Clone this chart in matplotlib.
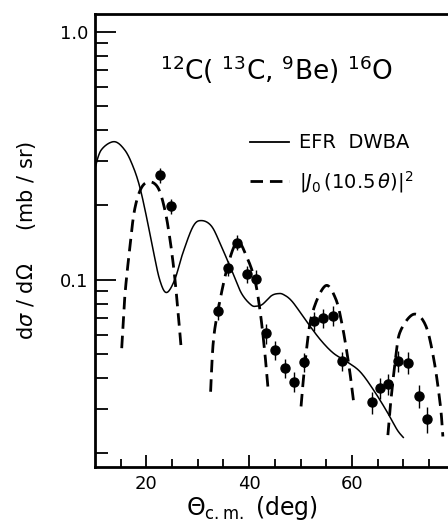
import numpy as np
import matplotlib.pyplot as plt
from matplotlib.lines import Line2D

# measured cross sections (deg, mb/sr)
theta_exp = [22.7, 24.7, 33.9, 35.8, 37.7, 39.6, 41.4, 43.3, 45.0, 47.0, 48.8,
             50.7, 52.6, 54.4, 56.3, 58.0, 63.9, 65.4, 67.0, 68.9, 70.9, 73.0, 74.7]
sigma_exp = [0.264, 0.198, 0.0748, 0.111, 0.141, 0.105, 0.101, 0.0607, 0.0521,
             0.0439, 0.0388, 0.0465, 0.0681, 0.0699, 0.0716, 0.0470, 0.0320,
             0.0365, 0.0380, 0.0470, 0.0463, 0.0340, 0.0274]
err_frac = [0.07, 0.07, 0.08, 0.07, 0.07, 0.08, 0.08, 0.09, 0.09, 0.09, 0.09,
            0.09, 0.09, 0.09, 0.09, 0.09, 0.10, 0.10, 0.10, 0.10, 0.10, 0.11, 0.12]

# EFR DWBA curve
theta_dwba = [10.0, 11.2, 13.7, 15.8, 17.4, 18.7, 20.0, 21.3, 22.6, 23.9, 25.5,
              27.1, 29.1, 30.7, 32.7, 34.6, 36.6, 38.5, 40.4, 41.5, 42.6, 44.3,
              45.6, 46.7, 48.4, 51.2, 53.9, 56.4, 59.0, 61.6, 64.2, 66.8, 68.8, 70.0]
sigma_dwba = [0.281, 0.333, 0.360, 0.333, 0.286, 0.237, 0.180, 0.132, 0.0997,
              0.0887, 0.0997, 0.128, 0.164, 0.173, 0.164, 0.136, 0.109, 0.0881,
              0.0790, 0.0782, 0.0795, 0.0860, 0.0878, 0.0870, 0.0815, 0.0677,
              0.0571, 0.0505, 0.0467, 0.0425, 0.0359, 0.0294, 0.0248, 0.0231]

# |J0(10.5 theta)|^2, four arches
bessel_theta = [
    [15.2, 15.8, 16.8, 17.7, 19.0, 20.6, 22.3, 23.6, 24.6, 25.5, 26.3, 26.8],
    [32.5, 33.0, 33.9, 35.8, 37.7, 39.5, 41.1, 42.1, 43.0, 43.7],
    [50.1, 50.9, 52.2, 54.8, 56.8, 58.1, 59.4, 60.4],
    [67.0, 67.5, 68.5, 69.4, 72.0, 74.3, 75.9, 77.2, 77.7],
]
bessel_sigma = [
    [0.0529, 0.0855, 0.136, 0.191, 0.234, 0.248, 0.234, 0.191, 0.145, 0.103,
     0.0687, 0.052],
    [0.0353, 0.0554, 0.0743, 0.113, 0.142, 0.124, 0.0997, 0.0755, 0.052, 0.0359],
    [0.0308, 0.0466, 0.072, 0.0943, 0.0841, 0.0657, 0.0453, 0.0313],
    [0.0236, 0.0313, 0.0482, 0.0617, 0.0725, 0.0657, 0.0482, 0.0313, 0.0233],
]

fig = plt.figure(figsize=(4.48, 5.31), dpi=100)
ax = fig.add_axes([95 / 448, 1 - 466.7 / 531, 1 - 95 / 448, (466.7 - 14) / 531])


def smooth(xs, ys, steps=20):
    pts = list(zip(xs, np.log10(ys)))
    pts = [pts[0]] + pts + [pts[-1]]
    rx, ry = [], []
    for i in range(1, len(pts) - 2):
        p0, p1, p2, p3 = [np.array(p) for p in pts[i - 1:i + 3]]
        t = np.linspace(0, 1, steps, endpoint=False)[:, None]
        c = 0.5 * ((2 * p1) + (-p0 + p2) * t + (2 * p0 - 5 * p1 + 4 * p2 - p3) * t ** 2
                   + (-p0 + 3 * p1 - 3 * p2 + p3) * t ** 3)
        rx.extend(c[:, 0])
        ry.extend(c[:, 1])
    rx.append(xs[-1])
    ry.append(np.log10(ys[-1]))
    return np.array(rx), 10 ** np.array(ry)


xs, ys = smooth(theta_dwba, sigma_dwba)
ax.plot(xs, ys, color='black', lw=1.1)

for bt, bs in zip(bessel_theta, bessel_sigma):
    xs, ys = smooth(bt, bs)
    ax.plot(xs, ys, color='black', lw=2.0, dashes=(4.5, 2.5))

sig = np.array(sigma_exp)
err = sig * np.array(err_frac)
ax.errorbar(theta_exp, sig, yerr=err, fmt='o', color='black', ms=6.5,
            elinewidth=1.0, capsize=0)

ax.set_yscale('log')
ax.set_xlim(10, 78.7)
ax.set_ylim(0.0176, 1.178)

ax.set_xticks([20, 40, 60])
ax.set_xticks(np.arange(15, 80, 5), minor=True)
ax.set_yticks([0.1, 1.0])
ax.set_yticklabels(['0.1', '1.0'])
ax.tick_params(axis='both', which='major', direction='in', width=1.3, labelsize=13)
ax.tick_params(axis='y', which='major', length=15, pad=5)
ax.tick_params(axis='y', which='minor', direction='in', length=9, width=1.3,
               labelleft=False)
ax.tick_params(axis='x', which='major', length=9, pad=6)
ax.tick_params(axis='x', which='minor', direction='in', length=6, width=1.3)
ax.tick_params(top=False, right=False, which='both')
for s in ['left', 'bottom', 'top']:
    ax.spines[s].set_linewidth(2.0)
ax.spines['right'].set_visible(False)

ax.text(0.513, 0.876, r'$^{12}$C( $^{13}$C, $^{9}$Be) $^{16}$O', transform=ax.transAxes,
        ha='center', va='center', fontsize=19)

handles = [Line2D([], [], color='black', lw=1.3),
           Line2D([], [], color='black', lw=2.0, dashes=(4.5, 2.5))]
ax.legend(handles, ['EFR  DWBA', r'$|J_0\,(10.5\,\theta)|^2$'], loc='upper left',
          bbox_to_anchor=(0.39, 0.775), frameon=False, fontsize=14,
          handlelength=2.0, handletextpad=0.5, labelspacing=0.85)

fig.text(27 / 448, 1 - 240 / 531, r'd$\sigma$ / d$\Omega$     (mb / sr)', rotation=90,
         ha='center', va='center', fontsize=15)
fig.text(252 / 448, 1 - 508 / 531, r'$\Theta_{\mathrm{c.m.}}$ (deg)', ha='center',
         va='center', fontsize=17)

fig.savefig('out.png', dpi=100)
